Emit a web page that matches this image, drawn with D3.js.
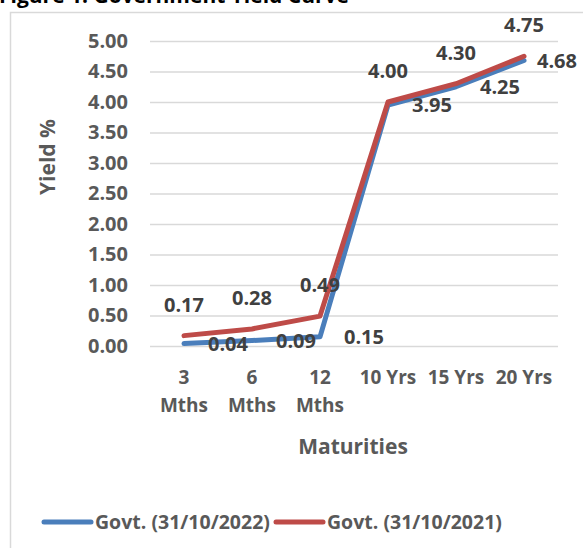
<!DOCTYPE html>
<html>
<head>
<meta charset="utf-8">
<script src="https://cdn.jsdelivr.net/npm/d3@7"></script>
<style>
  body { margin: 0; background: #fff; }
  text { font-family: "Open Sans", sans-serif; font-weight: bold; }
</style>
</head>
<body>
<div id="chart"></div>
<script>
// chart data
var maturities = ["3 Mths", "6 Mths", "12 Mths", "10 Yrs", "15 Yrs", "20 Yrs"];
var yield2022 = [0.04, 0.09, 0.15, 3.95, 4.25, 4.68];
var yield2021 = [0.17, 0.28, 0.49, 4.00, 4.30, 4.75];
var yTicks = [0, 0.5, 1, 1.5, 2, 2.5, 3, 3.5, 4, 4.5, 5];
var seriesNames = ["Govt. (31/10/2022)", "Govt. (31/10/2021)"];

var W = 583, H = 548;
var margin = { top: 41, right: 25, bottom: 202, left: 150 },
    width = W - margin.left - margin.right,
    height = H - margin.top - margin.bottom;

var svg = d3.select("#chart").append("svg")
    .attr("width", W)
    .attr("height", H);

// title (cut off at the top)
svg.append("text")
    .attr("x", -1)
    .attr("y", 3)
    .style("font-size", "21px")
    .style("fill", "#000")
    .text("Figure 1: Government Yield Curve");

// chart area border
svg.append("rect")
    .attr("x", 10.5)
    .attr("y", 12.5)
    .attr("width", 600)
    .attr("height", 600)
    .style("fill", "none")
    .style("stroke", "#d9d9d9")
    .style("stroke-width", 1.5);

var g = svg.append("g")
    .attr("transform", "translate(" + margin.left + "," + margin.top + ")");

var x = d3.scaleBand()
    .domain(maturities)
    .range([0, width]);

var y = d3.scaleLinear()
    .domain([0, 5])
    .range([height, 0]);

// gridlines
g.append("g")
    .attr("class", "grid")
    .call(d3.axisLeft(y).tickValues(yTicks).tickSize(-width).tickFormat(""))
    .call(s => s.select(".domain").remove())
    .call(s => s.selectAll("line").style("stroke", "#d9d9d9").style("stroke-width", 1.5));

// y axis labels
g.append("g")
    .call(d3.axisLeft(y).tickValues(yTicks).tickSize(0).tickPadding(22).tickFormat(d3.format(".2f")))
    .call(s => s.select(".domain").remove())
    .call(s => s.selectAll("text")
        .style("font-size", "20px")
        .style("fill", "#595959")
        .style("font-family", "'Open Sans', sans-serif"));

// x axis labels (wrapped like Excel)
var xl = g.append("g")
    .attr("transform", "translate(0," + height + ")")
    .selectAll("text")
    .data(maturities)
    .enter().append("text")
    .attr("x", d => x(d) + x.bandwidth() / 2)
    .attr("y", 38)
    .attr("text-anchor", "middle")
    .style("font-size", "19px")
    .style("fill", "#595959");

xl.each(function (d) {
    var parts = d.endsWith("Mths") ? d.split(" ") : [d];
    var t = d3.select(this);
    parts.forEach(function (p, i) {
        t.append("tspan")
            .attr("x", x(d) + x.bandwidth() / 2)
            .attr("dy", i === 0 ? 0 : 28)
            .text(p);
    });
});

// axis titles
svg.append("text")
    .attr("x", 353)
    .attr("y", 454)
    .attr("text-anchor", "middle")
    .style("font-size", "21px")
    .style("fill", "#595959")
    .text("Maturities");

svg.append("text")
    .attr("transform", "translate(55,157) rotate(-90)")
    .attr("text-anchor", "middle")
    .style("font-size", "21px")
    .style("fill", "#595959")
    .text("Yield %");

// lines
var line = d3.line()
    .x((d, i) => x(maturities[i]) + x.bandwidth() / 2)
    .y(d => y(d));

var colors = ["#4a7ebb", "#be4b48"];
[yield2022, yield2021].forEach(function (vals, k) {
    g.append("path")
        .datum(vals)
        .attr("d", line)
        .style("fill", "none")
        .style("stroke", colors[k])
        .style("stroke-width", 5)
        .style("stroke-linecap", "round")
        .style("stroke-linejoin", "round");
});

// data labels: 2022 to the right, 2021 above
g.selectAll(".lbl2022")
    .data(yield2022)
    .enter().append("text")
    .attr("x", (d, i) => x(maturities[i]) + x.bandwidth() / 2 + (i === 5 ? 33 : 44))
    .attr("y", d => y(d))
    .attr("dy", "0.35em")
    .attr("text-anchor", "middle")
    .style("font-size", "20px")
    .style("fill", "#404040")
    .text(d => d.toFixed(2));

g.selectAll(".lbl2021")
    .data(yield2021)
    .enter().append("text")
    .attr("x", (d, i) => x(maturities[i]) + x.bandwidth() / 2)
    .attr("y", d => y(d) - 31)
    .attr("dy", "0.35em")
    .attr("text-anchor", "middle")
    .style("font-size", "20px")
    .style("fill", "#404040")
    .text(d => d.toFixed(2));

// legend
var legendX = [42, 274];
seriesNames.forEach(function (name, k) {
    svg.append("line")
        .attr("x1", legendX[k] + 2)
        .attr("x2", legendX[k] + 49)
        .attr("y1", 522)
        .attr("y2", 522)
        .style("stroke", colors[k])
        .style("stroke-width", 5)
        .style("stroke-linecap", "round");
    svg.append("text")
        .attr("x", legendX[k] + 53)
        .attr("y", 522)
        .attr("dy", "0.35em")
        .style("font-size", "19.5px")
        .style("fill", "#595959")
        .text(name);
});
</script>
</body>
</html>
